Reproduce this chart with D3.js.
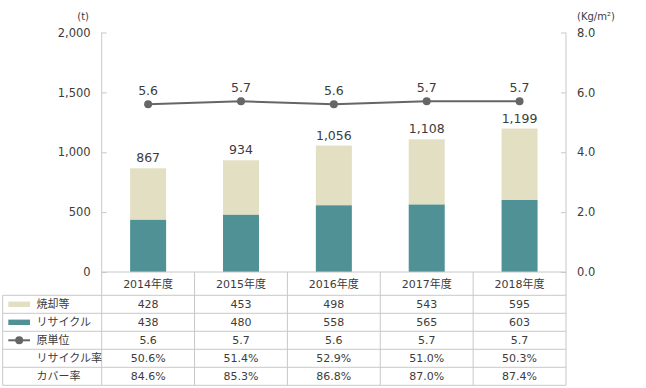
<!DOCTYPE html>
<html><head><meta charset="utf-8">
<script src="https://cdn.jsdelivr.net/npm/d3@7"></script>
<style>
html,body{margin:0;padding:0;background:#fff;}
text{font-family:"DejaVu Sans","Noto Sans CJK JP",sans-serif;fill:#3c3c3c;}
</style></head>
<body><svg id="c" width="646" height="388"></svg>
<script>
const years = ["2014年度","2015年度","2016年度","2017年度","2018年度"];
const incineration = [428,453,498,543,595];
const recycle = [438,480,558,565,603];
const unitRate = [5.6,5.7,5.6,5.7,5.7];
const totalLabels = [867,934,1056,1108,1199];
const recycleRate = ["50.6%","51.4%","52.9%","51.0%","50.3%"];
const coverRate = ["84.6%","85.3%","86.8%","87.0%","87.4%"];
const leftTicks = [0,500,1000,1500,2000];
const rightTicks = [0,2,4,6,8];

const svg = d3.select("#c");
const x0 = 101.7, x1 = 566, yTop = 32.5, yBot = 272;
const x = d3.scaleBand().domain(years).range([x0,x1]).padding(0);
const yL = d3.scaleLinear().domain([0,2000]).range([yBot,yTop]);
const yR = d3.scaleLinear().domain([0,8]).range([yBot,yTop]);
const grid = "#c8c8c8";
const FF = "'DejaVu Sans','Noto Sans CJK JP',sans-serif";

// left axis
const gL = svg.append("g").attr("transform",`translate(${x0},0)`)
  .call(d3.axisLeft(yL).tickValues(leftTicks).tickSize(-5).tickPadding(11).tickFormat(d3.format(",")));
gL.select(".domain").attr("stroke",grid).attr("d",`M0,${yTop}V${yBot}`);
gL.selectAll(".tick line").attr("stroke",grid);
gL.selectAll(".tick text").attr("font-size",11.5).attr("fill","#3c3c3c").attr("font-family",FF);
// right axis
const gR = svg.append("g").attr("transform",`translate(${x1},0)`)
  .call(d3.axisRight(yR).tickValues(rightTicks).tickSize(-5).tickPadding(11).tickFormat(d3.format(".1f")));
gR.select(".domain").attr("stroke",grid).attr("d",`M0,${yTop}V${yBot}`);
gR.selectAll(".tick line").attr("stroke",grid);
gR.selectAll(".tick text").attr("font-size",11.5).attr("fill","#3c3c3c").attr("font-family",FF);

svg.append("text").attr("x",89).attr("y",20).attr("text-anchor","end").attr("font-size",10).text("(t)");
svg.append("text").attr("x",577).attr("y",20).attr("font-size",10).text("(Kg/m²)");

// bars
const bw = 36;
const bars = svg.append("g");
years.forEach((yr,i)=>{
  const cx = x(yr)+x.bandwidth()/2;
  bars.append("rect").attr("x",cx-bw/2).attr("width",bw)
    .attr("y",yL(recycle[i])).attr("height",yBot-yL(recycle[i])).attr("fill","#4f9195");
  bars.append("rect").attr("x",cx-bw/2).attr("width",bw)
    .attr("y",yL(recycle[i]+incineration[i])).attr("height",yL(recycle[i])-yL(recycle[i]+incineration[i])).attr("fill","#e3dfc2");
  svg.append("text").attr("x",cx).attr("y",yL(recycle[i]+incineration[i])-6)
    .attr("text-anchor","middle").attr("font-size",12.5).text(d3.format(",")(totalLabels[i]));
});

// line
const line = d3.line().x((d,i)=>x(years[i])+x.bandwidth()/2).y(d=>yR(d));
svg.append("path").datum(unitRate).attr("d",line).attr("fill","none").attr("stroke","#666").attr("stroke-width",2);
svg.selectAll(".dot").data(unitRate).enter().append("circle")
  .attr("cx",(d,i)=>x(years[i])+x.bandwidth()/2).attr("cy",d=>yR(d)).attr("r",4).attr("fill","#666");
svg.selectAll(".ul").data(unitRate).enter().append("text")
  .attr("x",(d,i)=>x(years[i])+x.bandwidth()/2).attr("y",d=>yR(d)-9)
  .attr("text-anchor","middle").attr("font-size",12.5).text(d=>d.toFixed(1));

// table
const tL = 2.7, rowH = 18, hTop = yBot, hBot = 295.3;
const rows = [
  {label:"焼却等", vals:incineration.map(String), key:"inc"},
  {label:"リサイクル", vals:recycle.map(String), key:"rec"},
  {label:"原単位", vals:unitRate.map(d=>d.toFixed(1)), key:"unit"},
  {label:"リサイクル率", vals:recycleRate, key:"rr"},
  {label:"カバー率", vals:coverRate, key:"cr"}
];
const tb = svg.append("g").attr("stroke",grid).attr("stroke-width",1).attr("fill","none");
const tBot = hBot + rows.length*rowH;
tb.append("line").attr("x1",x0).attr("x2",x1).attr("y1",hTop).attr("y2",hTop);
for(let r=0;r<=rows.length;r++){
  const yy = hBot + r*rowH;
  tb.append("line").attr("x1",tL).attr("x2",x1).attr("y1",yy).attr("y2",yy);
}
tb.append("line").attr("x1",tL).attr("x2",tL).attr("y1",hBot).attr("y2",tBot);
years.forEach(yr=>{
  tb.append("line").attr("x1",x(yr)).attr("x2",x(yr)).attr("y1",hTop).attr("y2",tBot);
});
tb.append("line").attr("x1",x1).attr("x2",x1).attr("y1",hTop).attr("y2",tBot);

years.forEach(yr=>{
  svg.append("text").attr("x",x(yr)+x.bandwidth()/2).attr("y",(hTop+hBot)/2+4)
    .attr("text-anchor","middle").attr("font-size",11).text(yr);
});
rows.forEach((row,r)=>{
  const cy = hBot + r*rowH + rowH/2;
  svg.append("text").attr("x",36.5).attr("y",cy+4).attr("font-size",11)
    .attr("font-family","'Noto Sans CJK JP',sans-serif").text(row.label);
  row.vals.forEach((v,i)=>{
    svg.append("text").attr("x",x(years[i])+x.bandwidth()/2).attr("y",cy+4)
      .attr("text-anchor","middle").attr("font-size",11).text(v);
  });
  if(row.key==="inc") svg.append("rect").attr("x",8.3).attr("y",cy-2.7).attr("width",21.7).attr("height",5.4).attr("fill","#e3dfc2");
  if(row.key==="rec") svg.append("rect").attr("x",8.3).attr("y",cy-2.7).attr("width",21.7).attr("height",5.4).attr("fill","#4f9195");
  if(row.key==="unit"){
    svg.append("line").attr("x1",8.3).attr("x2",30).attr("y1",cy).attr("y2",cy).attr("stroke","#666").attr("stroke-width",2);
    svg.append("circle").attr("cx",19.2).attr("cy",cy).attr("r",4).attr("fill","#666");
  }
});
</script></body></html>
